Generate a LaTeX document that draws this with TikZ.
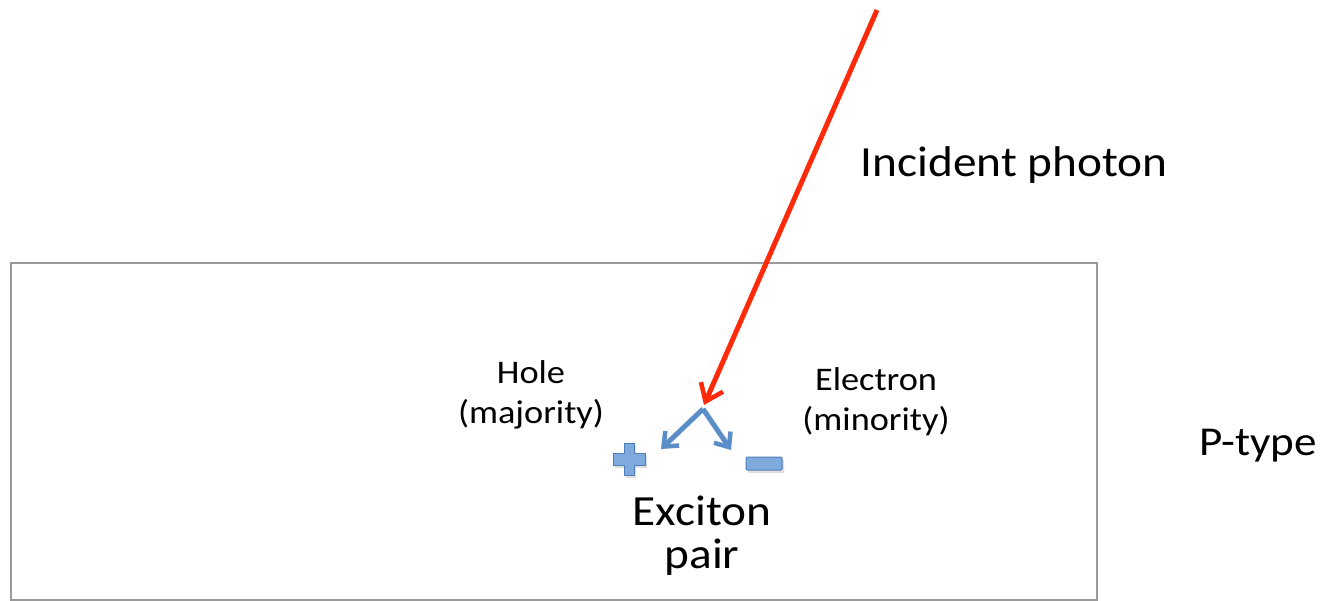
\documentclass[tikz,border=0pt]{standalone}
\usepackage{fontspec}
\setmainfont{Carlito}[FakeStretch=1.1]
\usetikzlibrary{arrows.meta,shadows}
\definecolor{photonred}{HTML}{FF2A0A}
\definecolor{carrierblue}{HTML}{5B8DC8}
\definecolor{signfill}{HTML}{7FAADD}
\definecolor{signedge}{HTML}{4F7FBA}
\definecolor{boxgray}{HTML}{9A9A9A}
\tikzset{
  label/.style={inner sep=0pt, align=center, font=\fontsize{33}{39.5}\selectfont},
  biglabel/.style={inner sep=0pt, align=center, font=\fontsize{43}{43}\selectfont},
  photon/.style={draw=photonred, line width=5pt, -{Straight Barb[length=16pt,width=24pt,line width=4.5pt]}},
  carrier/.style={draw=carrierblue, line width=5pt, -{Straight Barb[length=12pt,width=20pt,line width=4.5pt]}},
  sign/.style={fill=signfill, draw=signedge, line width=1pt, drop shadow={opacity=0.25, shadow xshift=2pt, shadow yshift=-3pt}},
  slab/.style={draw=boxgray, line width=2pt, drop shadow={opacity=0.12, shadow xshift=0pt, shadow yshift=-4pt}}
}
\begin{document}
\begin{tikzpicture}[x=1pt,y=-1pt]
\useasboundingbox (0,0) rectangle (1327,601);
% semiconductor slab
\path[slab, fill=white] (11,263) rectangle (1097,600);
% labels (anchor=base is the baseline of the last line)
\node[label, font=\fontsize{43}{50}\selectfont, anchor=base] (photonlbl) at (1014,177) {Incident photon};
\node[label, anchor=base] (holelbl) at (531,423) {Hole\\(majority)};
\node[label, anchor=base] (eleclbl) at (876,430) {Electron\\(minority)};
\node[biglabel, anchor=base] (exclbl) at (702,568) {Exciton\\pair};
\node[label, font=\fontsize{41}{45}\selectfont, anchor=base] (ptype) at (1258,455) {P-type};
% photon
\coordinate (src) at (877,10);
\coordinate (exc) at (704,405);
\coordinate (holetip) at (661,449);
\coordinate (electip) at (731,450);
\draw[photon] (src) -- (exc);
\draw[carrier] (703,409) -- (holetip);
\draw[carrier] (703,409) -- (electip);
% plus sign
\path[sign] (624,443) -- (634,443) -- (634,453) -- (645,453) -- (645,465) -- (634,465) -- (634,475) -- (624,475) -- (624,465) -- (613,465) -- (613,453) -- (624,453) -- cycle;
% minus sign
\path[sign, rounded corners=1pt] (746,457) rectangle (782,470);
\end{tikzpicture}
\end{document}
